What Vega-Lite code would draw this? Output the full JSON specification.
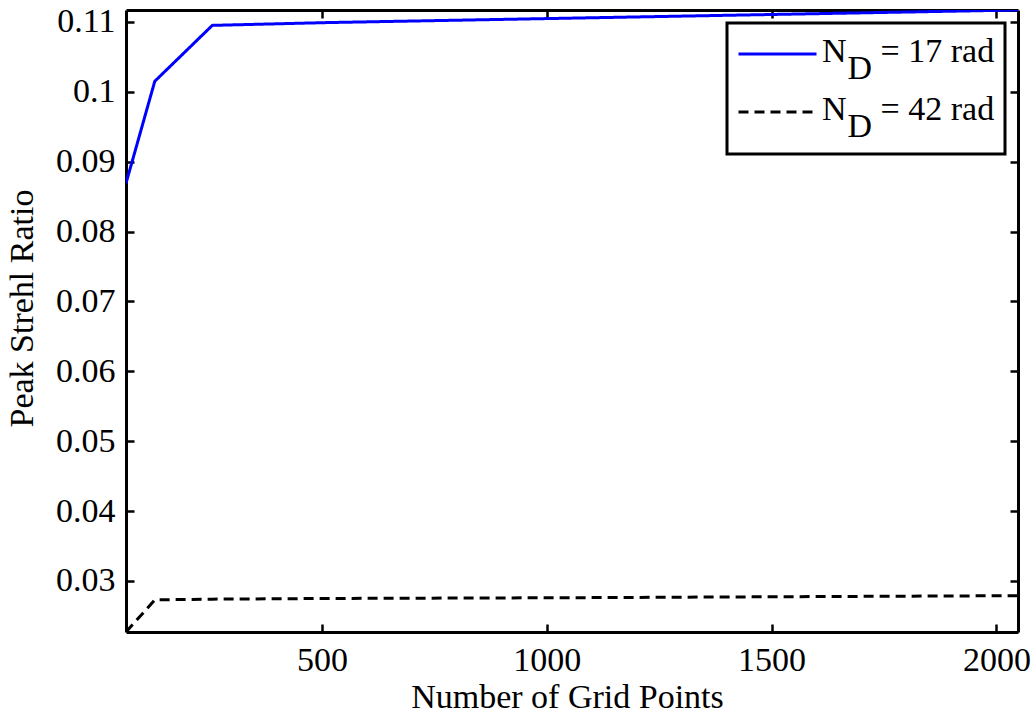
{
  "$schema": "https://vega.github.io/schema/vega-lite/v6.json",
  "width": 892,
  "height": 622,
  "autosize": {"type": "none"},
  "padding": {"left": 126, "top": 10, "right": 18, "bottom": 89},
  "background": "white",
  "data": {
    "values": [
      {"n": 64, "ratio": 0.0869, "series": "17 rad"},
      {"n": 128, "ratio": 0.1015, "series": "17 rad"},
      {"n": 256, "ratio": 0.1095, "series": "17 rad"},
      {"n": 512, "ratio": 0.1099, "series": "17 rad"},
      {"n": 1024, "ratio": 0.1105, "series": "17 rad"},
      {"n": 2048, "ratio": 0.1117, "series": "17 rad"},
      {"n": 64, "ratio": 0.0227, "series": "42 rad"},
      {"n": 128, "ratio": 0.0273, "series": "42 rad"},
      {"n": 256, "ratio": 0.0274, "series": "42 rad"},
      {"n": 512, "ratio": 0.0275, "series": "42 rad"},
      {"n": 1024, "ratio": 0.0276, "series": "42 rad"},
      {"n": 2048, "ratio": 0.0279, "series": "42 rad"}
    ]
  },
  "layer": [
    {
      "mark": {"type": "line", "strokeWidth": 3, "clip": true},
      "encoding": {
        "x": {
          "field": "n", "type": "quantitative",
          "scale": {"domain": [64, 2048], "nice": false, "zero": false},
          "axis": {"orient": "bottom", "values": [500, 1000, 1500, 2000], "format": "d", "title": "Number of Grid Points", "labelPadding": 19, "titlePadding": 3, "titleX": 441, "labelFont": "Liberation Serif", "titleFont": "Liberation Serif"}
        },
        "y": {
          "field": "ratio", "type": "quantitative",
          "scale": {"domain": [0.0227, 0.1117], "nice": false, "zero": false},
          "axis": {"orient": "left", "values": [0.03, 0.04, 0.05, 0.06, 0.07, 0.08, 0.09, 0.1, 0.11], "format": "~g", "title": "Peak Strehl Ratio", "labelPadding": 19, "titlePadding": 16, "titleY": 298, "labelFont": "Liberation Serif", "titleFont": "Liberation Serif"}
        },
        "color": {
          "field": "series", "type": "nominal",
          "scale": {"domain": ["17 rad", "42 rad"], "range": ["#0000ff", "#000000"]},
          "legend": {
            "orient": "top-right",
            "offset": 13,
            "title": null,
            "symbolType": "M-1,0H3",
            "symbolSize": 1521,
            "symbolStrokeWidth": 3,
            "labelFont": "Liberation Serif",
            "labelFontSize": 34,
            "labelColor": "black",
            "labelLimit": 400,
            "labelBaseline": "alphabetic",
            "labelOffset": 43,
            "labelExpr": "['N\u00a0\u00a0\u00a0\u00a0= ' + datum.label, '\u2060\u00a0\u00a0\u00a0D']",
            "rowPadding": 5,
            "padding": 10,
            "strokeColor": "black",
            "fillColor": "white",
            "cornerRadius": 0,
            "encode": {
              "labels": {"update": {"dy": {"value": 8}, "lineHeight": {"value": 17}, "font": {"value": "Liberation Serif"}}},
              "legend": {"update": {"strokeWidth": {"value": 3}}}
            }
          }
        },
        "strokeDash": {
          "field": "series", "type": "nominal",
          "scale": {"domain": ["17 rad", "42 rad"], "range": [[1, 0], [10, 6]]},
          "legend": null
        }
      }
    },
    {
      "mark": {"type": "line", "strokeOpacity": 0},
      "encoding": {
        "x": {
          "field": "n", "type": "quantitative",
          "scale": {"domain": [64, 2048], "nice": false, "zero": false},
          "axis": {"orient": "top", "values": [500, 1000, 1500, 2000], "labels": false, "title": null}
        },
        "y": {
          "field": "ratio", "type": "quantitative",
          "scale": {"domain": [0.0227, 0.1117], "nice": false, "zero": false},
          "axis": {"orient": "right", "values": [0.03, 0.04, 0.05, 0.06, 0.07, 0.08, 0.09, 0.1, 0.11], "labels": false, "title": null}
        }
      }
    }
  ],
  "resolve": {"axis": {"x": "independent", "y": "independent"}},
  "config": {
    "font": "Liberation Serif",
    "view": {"stroke": null},
    "axis": {
      "grid": false,
      "domainColor": "black",
      "domainWidth": 3,
      "tickColor": "black",
      "tickWidth": 2.5,
      "tickSize": -8,
      "labelFont": "Liberation Serif",
      "labelFontSize": 34,
      "labelColor": "black",
      "titleFont": "Liberation Serif",
      "titleFontSize": 34,
      "titleFontWeight": "normal",
      "titleColor": "black",
      "labelFlush": false,
      "labelOverlap": false
    }
  }
}
